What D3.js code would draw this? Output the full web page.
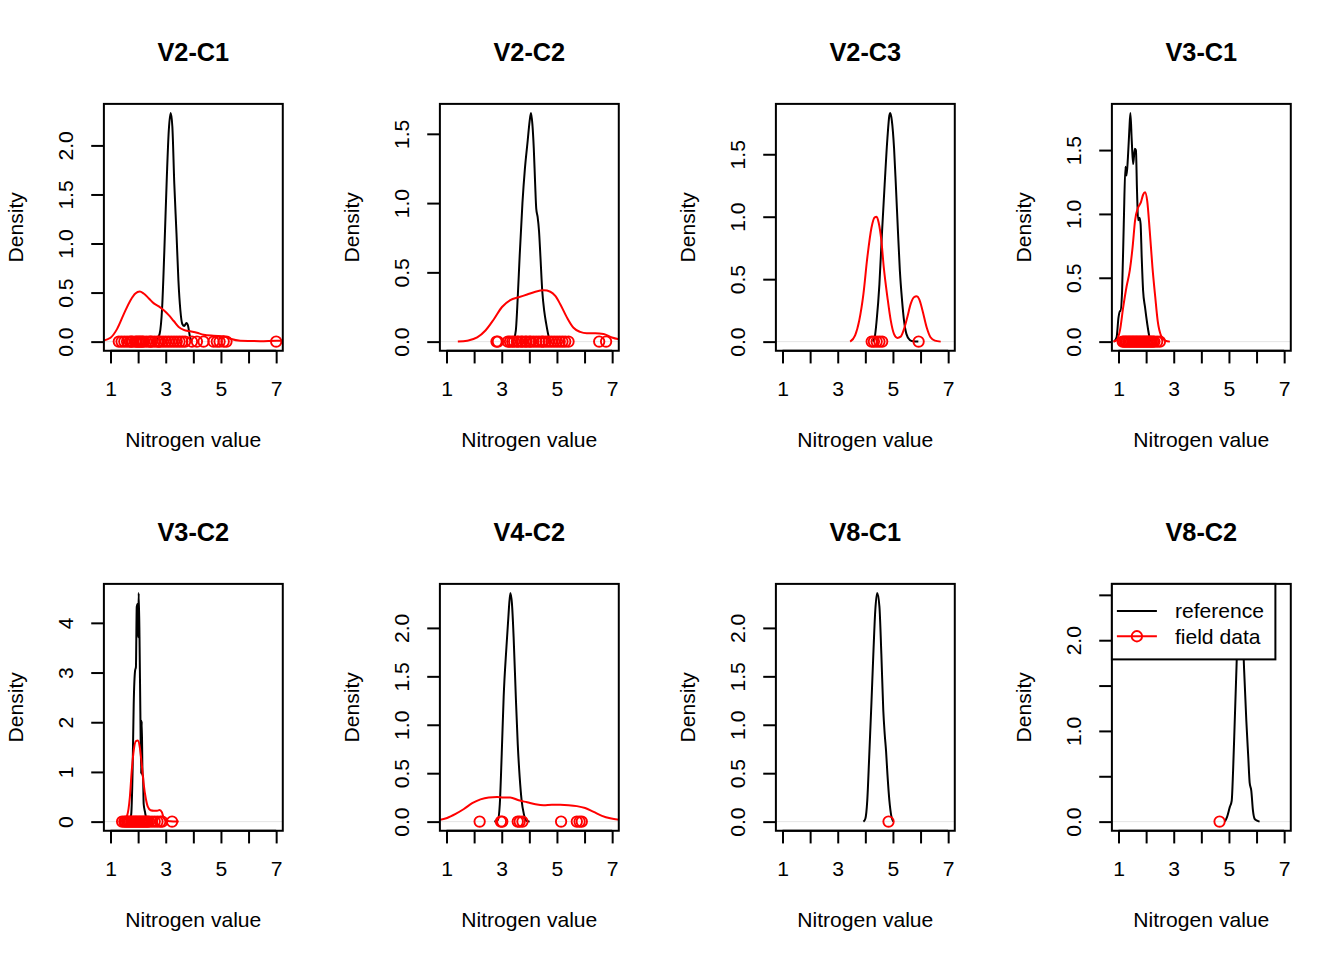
<!DOCTYPE html>
<html><head><meta charset="utf-8">
<script src="https://cdn.jsdelivr.net/npm/d3@7"></script>
<style>
body{margin:0;background:#fff}
svg{display:block}
text{font-family:"Liberation Sans",Arial,Helvetica,sans-serif;fill:#000}
</style>
</head><body>
<svg id="chart" width="1344" height="960"></svg>
<script>
// ---------------- DATA ----------------
const panelNames = ["V2-C1","V2-C2","V2-C3","V3-C1","V3-C2","V4-C2","V8-C1","V8-C2"];
const xLabel = "Nitrogen value";
const yLabel = "Density";
const xLimits = [1, 7];
const xTicks = [1,2,3,4,5,6,7];
const xTickLabels = ["1","","3","","5","","7"];
const yTicks = [
  [0,0.5,1,1.5,2],[0,0.5,1,1.5],[0,0.5,1,1.5],[0,0.5,1,1.5],
  [0,1,2,3,4],[0,0.5,1,1.5,2],[0,0.5,1,1.5,2],[0,0.5,1,1.5,2,2.5]
];
const yTickLabels = [
  ["0.0","0.5","1.0","1.5","2.0"],["0.0","0.5","1.0","1.5"],["0.0","0.5","1.0","1.5"],["0.0","0.5","1.0","1.5"],
  ["0","1","2","3","4"],["0.0","0.5","1.0","1.5","2.0"],["0.0","0.5","1.0","1.5","2.0"],["0.0","","1.0","","2.0",""]
];
const legendLabels = ["reference","field data"];

// reference density curves [x, density]
const refV2C1 = [[2.66,0.01],[2.78,0.08],[2.87,0.35],[2.95,0.93],[3.04,1.68],[3.11,2.15],[3.18,2.33],[3.24,2.19],[3.31,1.61],[3.39,1.10],[3.46,0.62],[3.53,0.32],[3.60,0.18],[3.67,0.16],[3.75,0.19],[3.81,0.16],[3.87,0.06],[3.94,0.0]];
const refV2C2 = [[3.41,0.0],[3.51,0.08],[3.58,0.32],[3.65,0.62],[3.75,1.0],[3.84,1.25],[3.94,1.45],[4.01,1.59],[4.06,1.65],[4.11,1.57],[4.16,1.40],[4.21,1.14],[4.25,0.96],[4.30,0.90],[4.35,0.80],[4.40,0.62],[4.47,0.36],[4.54,0.22],[4.61,0.13],[4.71,0.03],[4.78,0.0]];
const refV2C3 = [[4.27,0.0],[4.34,0.035],[4.41,0.17],[4.51,0.46],[4.60,0.86],[4.70,1.26],[4.80,1.63],[4.87,1.81],[4.90,1.83],[4.96,1.77],[5.04,1.55],[5.11,1.23],[5.18,0.89],[5.25,0.57],[5.33,0.33],[5.40,0.17],[5.49,0.06],[5.61,0.013],[5.73,0.003],[5.92,0.0]];
const refV3C1 = [[0.84,0.0],[0.93,0.034],[1.0,0.19],[1.05,0.24],[1.08,0.24],[1.13,0.40],[1.19,0.92],[1.25,1.37],[1.29,1.30],[1.34,1.44],[1.39,1.65],[1.43,1.79],[1.48,1.57],[1.53,1.39],[1.59,1.51],[1.63,1.50],[1.67,1.18],[1.71,0.95],[1.76,0.97],[1.80,0.92],[1.84,0.66],[1.89,0.40],[1.96,0.27],[2.04,0.14],[2.11,0.047],[2.18,0.003]];
const refV3C2 = [[1.70,0.0],[1.75,0.15],[1.80,1.03],[1.84,2.37],[1.89,3.04],[1.92,3.11],[1.95,4.32],[1.98,4.38],[2.00,3.71],[2.02,4.60],[2.05,3.71],[2.08,2.23],[2.11,0.96],[2.13,2.03],[2.16,0.96],[2.18,0.89],[2.20,0.36],[2.25,0.19],[2.30,0.05],[2.35,0.0]];
const refV4C2 = [[2.73,0.0],[2.86,0.017],[2.93,0.18],[3.00,0.70],[3.07,1.29],[3.17,1.80],[3.24,2.11],[3.31,2.36],[3.37,2.25],[3.43,1.91],[3.51,1.29],[3.58,0.80],[3.65,0.46],[3.72,0.22],[3.80,0.08],[3.89,0.01],[4.01,0.0]];
const refV8C1 = [[3.93,0.0],[4.00,0.03],[4.07,0.22],[4.14,0.67],[4.22,1.22],[4.29,1.73],[4.36,2.18],[4.43,2.36],[4.51,2.22],[4.58,1.73],[4.65,1.15],[4.70,0.91],[4.75,0.73],[4.80,0.49],[4.87,0.22],[4.94,0.06],[5.01,0.0]];
const refV8C2 = [[4.85,0.0],[4.93,0.05],[5.03,0.16],[5.10,0.23],[5.15,0.56],[5.21,1.11],[5.27,1.67],[5.33,2.22],[5.41,2.52],[5.48,2.22],[5.55,1.67],[5.63,1.11],[5.70,0.71],[5.75,0.43],[5.81,0.34],[5.87,0.12],[5.93,0.03],[6.02,0.01],[6.11,0.0]];

// field-data density curves [x, density]
const fieldDensV2C1 = [[0.70,0.008],[1.0,0.04],[1.24,0.13],[1.48,0.28],[1.72,0.42],[1.90,0.49],[2.06,0.51],[2.20,0.49],[2.39,0.44],[2.57,0.39],[2.75,0.36],[2.93,0.32],[3.11,0.27],[3.29,0.21],[3.47,0.15],[3.65,0.12],[3.89,0.105],[4.13,0.09],[4.37,0.07],[4.73,0.06],[5.10,0.055],[5.34,0.03],[5.70,0.01],[6.42,0.005],[7.02,0.01],[7.30,0.008]];
const fieldDensV2C2 = [[1.41,0.0],[1.75,0.007],[2.11,0.03],[2.41,0.08],[2.71,0.16],[3.01,0.25],[3.31,0.30],[3.61,0.32],[3.92,0.34],[4.22,0.36],[4.52,0.37],[4.76,0.36],[4.94,0.33],[5.12,0.27],[5.36,0.175],[5.60,0.10],[5.84,0.07],[6.08,0.06],[6.39,0.06],[6.69,0.055],[6.99,0.03],[7.30,0.015]];
const fieldDensV2C3 = [[3.45,0.0],[3.63,0.05],[3.78,0.17],[3.93,0.38],[4.07,0.67],[4.22,0.91],[4.34,0.995],[4.41,1.0],[4.48,0.955],[4.58,0.81],[4.67,0.59],[4.80,0.355],[4.92,0.17],[5.04,0.06],[5.16,0.03],[5.28,0.04],[5.40,0.10],[5.52,0.195],[5.64,0.30],[5.76,0.355],[5.86,0.363],[5.95,0.34],[6.07,0.25],[6.22,0.115],[6.36,0.035],[6.52,0.008],[6.73,0.0]];
const fieldDensV3C1 = [[0.81,0.0],[0.93,0.013],[1.05,0.086],[1.17,0.27],[1.29,0.43],[1.41,0.56],[1.51,0.74],[1.60,0.95],[1.71,1.05],[1.81,1.09],[1.89,1.15],[1.96,1.17],[2.04,1.10],[2.13,0.87],[2.23,0.58],[2.33,0.35],[2.42,0.16],[2.54,0.047],[2.69,0.008],[2.86,0.0]];
const fieldDensV3C2 = [[1.34,0.0],[1.48,0.03],[1.60,0.12],[1.70,0.49],[1.77,1.03],[1.84,1.43],[1.92,1.62],[1.99,1.63],[2.06,1.50],[2.13,1.16],[2.20,0.76],[2.28,0.46],[2.35,0.30],[2.45,0.23],[2.57,0.22],[2.69,0.22],[2.78,0.235],[2.86,0.19],[2.93,0.07],[3.02,0.02],[3.17,0.007],[3.35,0.0],[3.47,0.0]];
const fieldDensV4C2 = [[0.70,0.015],[1.02,0.038],[1.33,0.08],[1.63,0.13],[1.93,0.19],[2.23,0.23],[2.53,0.25],[2.83,0.255],[3.07,0.25],[3.31,0.25],[3.61,0.22],[3.92,0.20],[4.22,0.18],[4.52,0.17],[4.82,0.175],[5.12,0.175],[5.42,0.17],[5.72,0.16],[6.02,0.14],[6.33,0.10],[6.63,0.06],[6.93,0.034],[7.30,0.018]];

// field-data observations (x values, drawn at density 0)
const ptsV2C1 = [1.3,1.4,1.5,1.6,1.7,1.75,1.8,1.9,1.95,2.0,2.05,2.1,2.15,2.2,2.3,2.4,2.45,2.5,2.6,2.7,2.75,2.8,2.9,3.0,3.1,3.2,3.3,3.4,3.5,3.6,3.7,3.95,4.13,4.37,4.73,4.85,4.95,5.1,5.2,7.0];
const ptsV2C2 = [2.81,2.86,3.22,3.3,3.38,3.45,3.55,3.6,3.7,3.75,3.85,3.9,4.0,4.05,4.15,4.25,4.35,4.45,4.5,4.6,4.7,4.8,4.9,5.0,5.1,5.2,5.3,5.42,6.53,6.78];
const ptsV2C3 = [4.23,4.31,4.41,4.51,4.61,5.93];
const ptsV3C1 = [1.15,1.2,1.25,1.3,1.35,1.4,1.45,1.5,1.55,1.6,1.65,1.7,1.75,1.8,1.85,1.9,1.95,2.0,2.05,2.1,2.15,2.2,2.25,2.3,2.4,2.5];
const ptsV3C2 = [1.42,1.5,1.55,1.6,1.65,1.7,1.75,1.8,1.85,1.9,1.95,2.0,2.05,2.1,2.15,2.2,2.25,2.3,2.35,2.4,2.5,2.6,2.7,2.8,2.87,3.23];
const ptsV4C2 = [2.2,2.97,3.02,3.58,3.65,3.75,5.15,5.72,5.82,5.9];
const ptsV8C1 = [4.84];
const ptsV8C2 = [4.66];

const referenceCurves = [refV2C1,refV2C2,refV2C3,refV3C1,refV3C2,refV4C2,refV8C1,refV8C2];
const fieldCurves = [fieldDensV2C1,fieldDensV2C2,fieldDensV2C3,fieldDensV3C1,fieldDensV3C2,fieldDensV4C2,null,null];
const fieldPoints = [ptsV2C1,ptsV2C2,ptsV2C3,ptsV3C1,ptsV3C2,ptsV4C2,ptsV8C1,ptsV8C2];

// ---------------- LAYOUT ----------------
const svg = d3.select("#chart");
const FIG_W = 336, FIG_H = 480;
const LINE = 25.34;               // one margin line in px
const MAR = {b:5.1*LINE, l:4.1*LINE, t:4.1*LINE, r:2.1*LINE};
const FONT = 21.1, TITLE_FONT = 25.3;
const LW = 2;
const PT_R = 5.2;
const RED = "#ff0000";

panelNames.forEach((name, i) => {
  const col = i % 4, row = Math.floor(i / 4);
  const fx = col * FIG_W, fy = row * FIG_H;
  const x0 = fx + MAR.l, x1 = fx + FIG_W - MAR.r;
  const y0 = fy + MAR.t, y1 = fy + FIG_H - MAR.b;

  const ref = referenceCurves[i];
  const yMax = d3.max(ref, d => d[1]);
  const xr = xLimits[1] - xLimits[0];
  const x = d3.scaleLinear().domain([xLimits[0] - 0.04*xr, xLimits[1] + 0.04*xr]).range([x0, x1]);
  const y = d3.scaleLinear().domain([-0.04*yMax, 1.04*yMax]).range([y1, y0]);

  const g = svg.append("g");
  const clipId = "clip" + i;
  g.append("clipPath").attr("id", clipId)
    .append("rect").attr("x", x0).attr("y", y0).attr("width", x1 - x0).attr("height", y1 - y0);

  const plot = g.append("g").attr("clip-path", `url(#${clipId})`);
  plot.append("line").attr("x1", x0).attr("x2", x1).attr("y1", y(0)).attr("y2", y(0))
    .attr("stroke", "#bebebe").attr("stroke-width", 0.4);

  const line = d3.line().x(d => x(d[0])).y(d => y(d[1])).curve(d3.curveMonotoneX);
  plot.append("path").datum(ref).attr("d", line)
    .attr("fill", "none").attr("stroke", "#000").attr("stroke-width", LW).attr("stroke-linejoin", "round");
  if (fieldCurves[i]) {
    plot.append("path").datum(fieldCurves[i]).attr("d", line)
      .attr("fill", "none").attr("stroke", RED).attr("stroke-width", LW).attr("stroke-linejoin", "round");
  }
  plot.selectAll("circle.pt").data(fieldPoints[i]).join("circle")
    .attr("class", "pt").attr("cx", d => x(d)).attr("cy", y(0)).attr("r", PT_R)
    .attr("fill", "none").attr("stroke", RED).attr("stroke-width", 1.9);

  g.append("rect").attr("x", x0).attr("y", y0).attr("width", x1 - x0).attr("height", y1 - y0)
    .attr("fill", "none").attr("stroke", "#000").attr("stroke-width", LW);

  const ax = g.append("g").attr("transform", `translate(0,${y1})`)
    .call(d3.axisBottom(x).tickValues(xTicks).tickFormat((d, k) => xTickLabels[k]).tickSize(0.5*LINE).tickSizeOuter(0));
  ax.select(".domain").remove();
  ax.selectAll(".tick line").attr("stroke", "#000").attr("stroke-width", LW);
  ax.selectAll(".tick text").attr("y", 1.8*LINE).attr("dy", null)
    .style("font-size", FONT + "px").style("font-family", '"Liberation Sans",Arial,sans-serif').attr("fill", "#000");
  g.append("line").attr("x1", x(xTicks[0])).attr("x2", x(xTicks[xTicks.length-1])).attr("y1", y1).attr("y2", y1)
    .attr("stroke", "#000").attr("stroke-width", LW);

  const ay = g.append("g").attr("transform", `translate(${x0},0)`)
    .call(d3.axisLeft(y).tickValues(yTicks[i]).tickFormat((d, k) => yTickLabels[i][k]).tickSize(0.5*LINE).tickSizeOuter(0));
  ay.select(".domain").remove();
  ay.selectAll(".tick line").attr("stroke", "#000").attr("stroke-width", LW);
  ay.selectAll(".tick text").attr("x", 0).attr("y", -1.2*LINE).attr("dy", null)
    .attr("transform", "rotate(-90)").attr("text-anchor", "middle")
    .style("font-size", FONT + "px").style("font-family", '"Liberation Sans",Arial,sans-serif').attr("fill", "#000");

  const cx = (x0 + x1) / 2, cy = (y0 + y1) / 2;
  g.append("text").attr("x", cx).attr("y", y0 - 1.68*LINE).attr("text-anchor", "middle")
    .style("font-size", TITLE_FONT + "px").style("font-weight", "bold").text(name);
  g.append("text").attr("x", cx).attr("y", y1 + 3.8*LINE).attr("text-anchor", "middle")
    .style("font-size", FONT + "px").text(xLabel);
  g.append("text").attr("transform", `translate(${x0 - 3.2*LINE},${cy}) rotate(-90)`).attr("text-anchor", "middle")
    .style("font-size", FONT + "px").text(yLabel);

  if (i === panelNames.length - 1) {
    const lg = g.append("g");
    const lx = x0, ly = y0, lw = 163.5, lh = 75.5;
    lg.append("rect").attr("x", lx).attr("y", ly).attr("width", lw).attr("height", lh)
      .attr("fill", "#fff").attr("stroke", "#000").attr("stroke-width", LW);
    const rows = [{c:"#000", pt:false},{c:RED, pt:true}];
    rows.forEach((r, k) => {
      const ry = ly + 27 + k * LINE;
      lg.append("line").attr("x1", lx + 5).attr("x2", lx + 45).attr("y1", ry).attr("y2", ry)
        .attr("stroke", r.c).attr("stroke-width", LW);
      if (r.pt) lg.append("circle").attr("cx", lx + 25).attr("cy", ry).attr("r", PT_R)
        .attr("fill", "none").attr("stroke", r.c).attr("stroke-width", 1.9);
      lg.append("text").attr("x", lx + 63).attr("y", ry).attr("dy", "0.35em")
        .style("font-size", FONT + "px").text(legendLabels[k]);
    });
  }
});
</script>
</body></html>
